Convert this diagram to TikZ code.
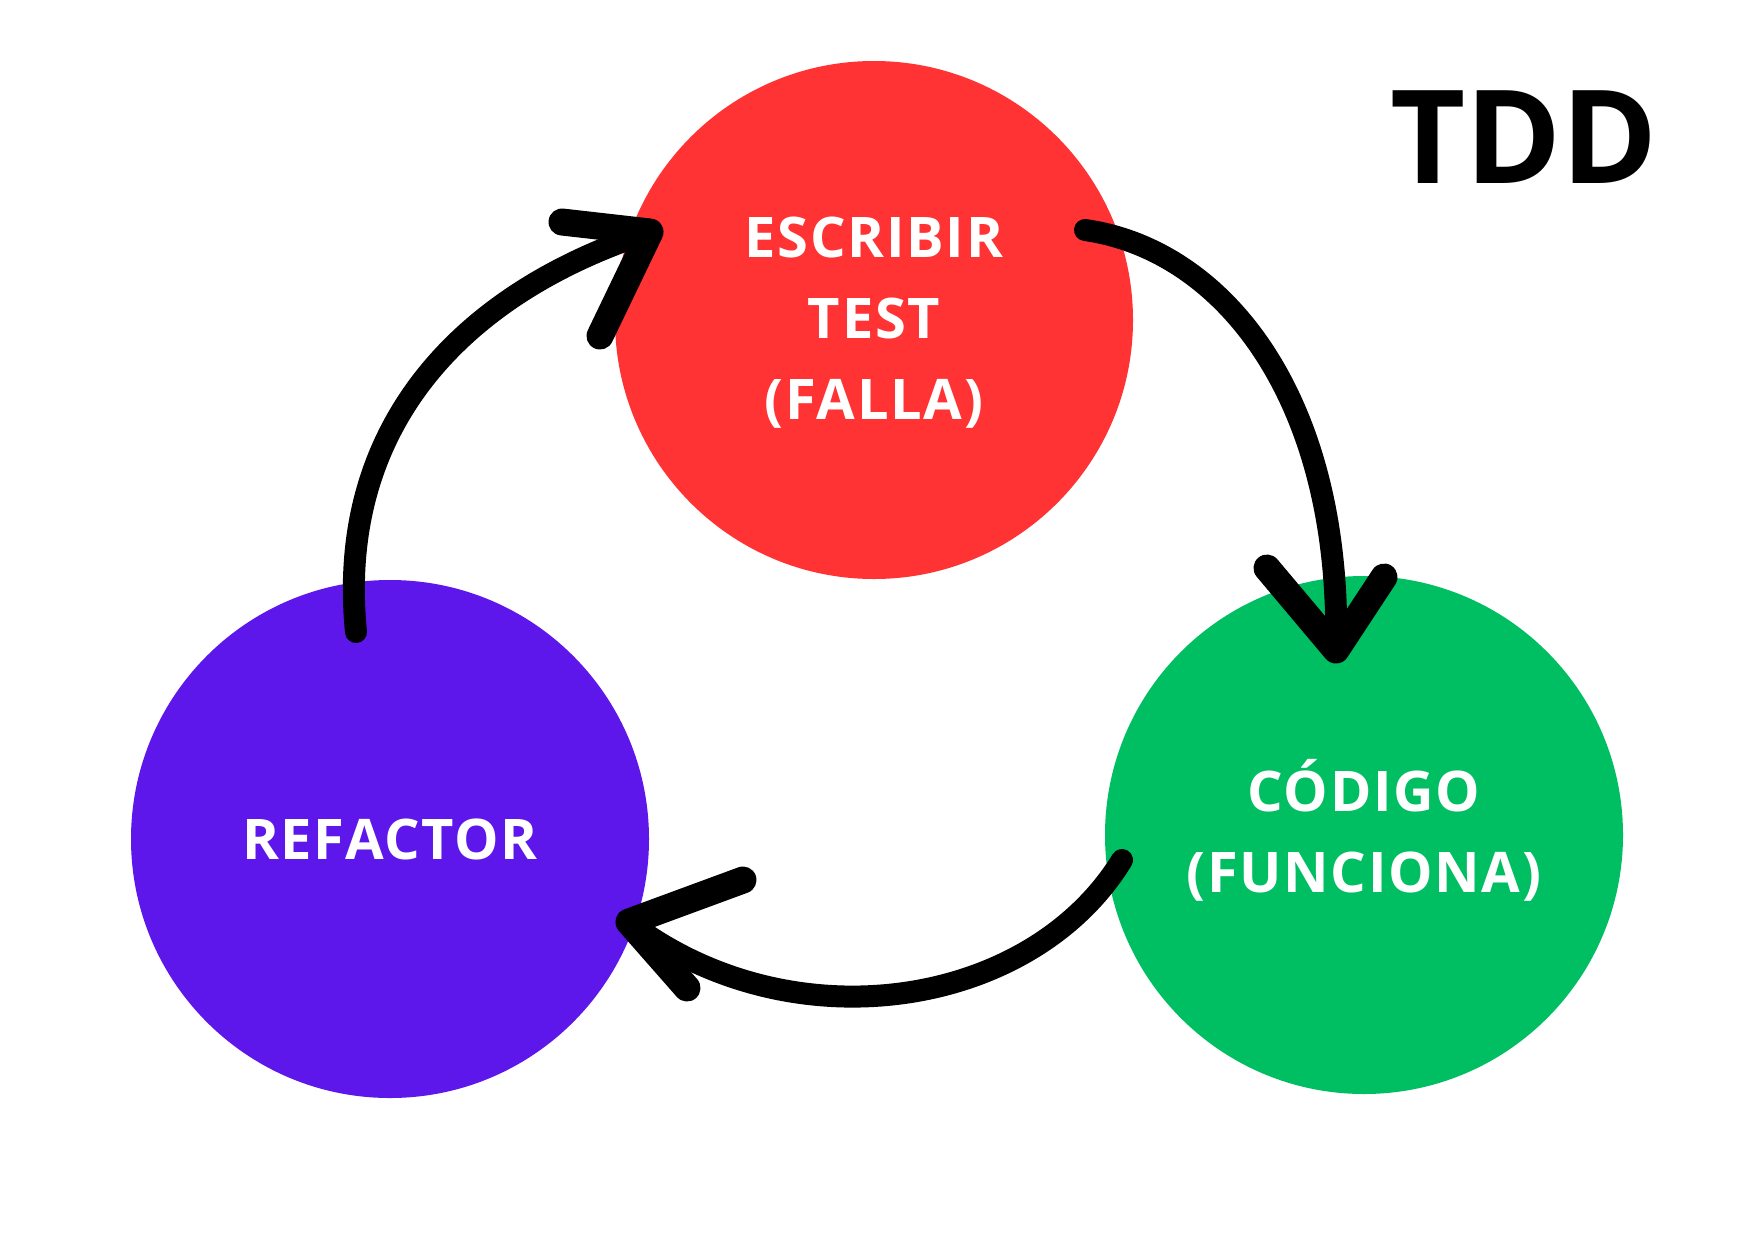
\documentclass[tikz,border=0pt]{standalone}
\usepackage{fontspec}
\setmainfont{Open Sans}
\newfontfamily\lblfont{Open Sans}[LetterSpace=3.0]
\definecolor{cred}{HTML}{FF3333}
\definecolor{cpurple}{HTML}{5E17EB}
\definecolor{cgreen}{HTML}{00BF63}
\begin{document}
\begin{tikzpicture}[x=1pt,y=-1pt,
  blob/.style={circle,inner sep=0pt,minimum size=518pt},
  lbl/.style={text=white,align=center,
    font=\lblfont\bfseries\fontsize{56}{81}\selectfont},
  brush/.style={line width=22pt,line cap=round,line join=round,black},
  barb/.style={line width=27pt,line cap=round,line join=round,black}]
\useasboundingbox[fill=white] (0,0) rectangle (1748,1240);
\node[blob,fill=cred] (red) at (874,320) {};
\node[blob,fill=cpurple] (purple) at (390,839) {};
\node[blob,fill=cgreen] (green) at (1364,835) {};
\node[lbl] (redtxt) at (874,323) {ESCRIBIR\\TEST\\(FALLA)};
\node[lbl] (purpletxt) at (390,839) {REFACTOR};
\node[lbl] (greentxt) at (1364,830.5) {CÓDIGO\\(FUNCIONA)};
\node[font=\bfseries\fontsize{130}{130}\selectfont,anchor=base] (tdd) at (1524,183) {TDD};
% arrow 1: purple -> red
\coordinate (t1) at (356,632);
\coordinate (h1) at (650,232);
\coordinate (b1a) at (562,222);
\coordinate (b1b) at (600,336);
\draw[brush] (t1) .. controls (335,420) and (470,290) .. (h1);
\draw[barb] (b1a) -- (h1) -- (b1b);
% arrow 2: red -> green
\coordinate (t2) at (1085,230);
\coordinate (h2) at (1336,650);
\coordinate (b2a) at (1267,568);
\coordinate (b2b) at (1384,577);
\draw[brush] (t2) .. controls (1225,250) and (1342,400) .. (h2);
\draw[barb] (b2a) -- (h2) -- (b2b);
% arrow 3: green -> purple
\coordinate (t3) at (1122,860);
\coordinate (h3) at (629,922);
\coordinate (b3a) at (743,880);
\coordinate (b3b) at (687,988);
\draw[brush] (t3) .. controls (1030,1010) and (790,1045) .. (h3);
\draw[barb] (b3a) -- (h3) -- (b3b);
\end{tikzpicture}
\end{document}
